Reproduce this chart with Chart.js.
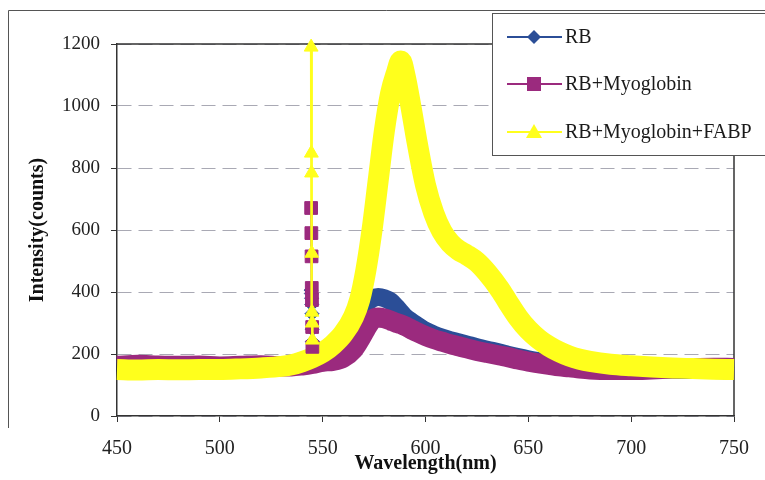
<!DOCTYPE html>
<html>
<head>
<meta charset="utf-8">
<title>Intensity vs Wavelength</title>
<script src="https://cdn.jsdelivr.net/npm/chart.js@4.4.1/dist/chart.umd.min.js"></script>
<style>
    html, body { margin: 0; padding: 0; background: #fff; }
    #wrap { position: relative; width: 765px; height: 480px; }
</style>
</head>
<body>
<div id="wrap"><canvas id="spectrumChart" width="765" height="480"></canvas></div>
<script>
// Wavelength grid (nm) shared by the three spectra
const wavelengths = [450, 460, 470, 480, 490, 500, 510, 520, 530, 535, 540, 545, 550, 555, 560, 565, 568, 571, 574, 577,
    580, 583, 586, 588, 590, 593, 596, 600, 604, 608, 612, 616, 620, 625, 630, 636, 640, 645, 650, 655,
    660, 665, 670, 675, 680, 690, 700, 710, 720, 730, 740, 750];

const rb = [150, 152, 152, 150, 152, 152, 153, 155, 158, 160, 165, 175, 190, 215, 258, 310, 340, 362, 378, 384,
    380, 370, 350, 335, 320, 305, 292, 275, 263, 253, 245, 238, 231, 222, 214, 205, 198, 190, 183, 177,
    172, 167, 162, 158, 155, 152, 150, 150, 149, 148, 148, 147];

const rbMyoglobin = [162, 165, 163, 162, 163, 160, 162, 164, 160, 160, 163, 168, 175, 178, 188, 215, 245, 280, 310, 318,
    315, 308, 300, 296, 290, 280, 270, 258, 248, 240, 232, 225, 218, 210, 203, 195, 190, 182, 175, 170,
    165, 160, 157, 153, 150, 148, 148, 150, 153, 155, 156, 155];

const rbMyoglobinFabp = [150, 148, 150, 149, 150, 150, 152, 155, 160, 165, 175, 188, 205, 230, 265, 320, 375, 470, 600, 760,
    920, 1040, 1110, 1145, 1100, 995, 880, 745, 655, 595, 558, 535, 520, 497, 462, 410, 368, 318, 278, 248,
    225, 207, 193, 183, 176, 167, 162, 158, 155, 153, 151, 150];

// Narrow scatter spike near 545 nm, where the markers stand apart
const spikeWavelengths = [544.4, 544.5, 544.6, 544.7, 544.8, 544.9, 545.0];
const rbSpike = [406, 395, 380, 360, 330, 280, 240];
const rbMyoglobinSpike = [671, 590, 515, 413, 374, 287, 223];
const rbMyoglobinFabpSpike = [1190, 848, 784, 525, 335, 300, 245];

const xTicks = [450, 500, 550, 600, 650, 700, 750];
const yTicks = [0, 200, 400, 600, 800, 1000, 1200];
const seriesLabels = ['RB', 'RB+Myoglobin', 'RB+Myoglobin+FABP'];

const BLUE = '#2b4e97';
const PURPLE = '#9b2a7e';
const YELLOW = '#ffff1c';
const SERIF = '"Liberation Serif", "Times New Roman", serif';

function toPoints(xs, ys) {
    return xs.map((x, i) => ({ x: x, y: ys[i] }));
}

function mainSeries(label, values, color, width) {
    return {
        label: label,
        data: toPoints(wavelengths, values),
        borderColor: color,
        backgroundColor: color,
        borderWidth: width,
        pointRadius: 0,
        cubicInterpolationMode: 'monotone',
        clip: false,
        legendItem: true
    };
}

function spikeSeries(values, color, style, radius, lineWidth) {
    return {
        label: '',
        data: toPoints(spikeWavelengths, values),
        borderColor: color,
        backgroundColor: color,
        borderWidth: lineWidth,
        pointStyle: style,
        pointRadius: radius,
        pointBorderWidth: 1,
        pointBorderColor: color,
        pointBackgroundColor: color,
        clip: false
    };
}

// Plot frame (top / right edges) and the outer chart border
const framePlugin = {
    id: 'frame',
    beforeDatasetsDraw(chart) {
        const { ctx, chartArea: a } = chart;
        ctx.save();
        ctx.strokeStyle = '#555';
        ctx.lineWidth = 1;
        ctx.beginPath();
        ctx.moveTo(8.5, 428);
        ctx.lineTo(8.5, 10.5);
        ctx.lineTo(765, 10.5);
        ctx.stroke();
        ctx.strokeStyle = '#333';
        ctx.lineWidth = 1.5;
        ctx.beginPath();
        ctx.moveTo(a.left, a.top);
        ctx.lineTo(a.right, a.top);
        ctx.lineTo(a.right, a.bottom);
        ctx.stroke();
        ctx.restore();
    }
};

// Excel-like legend box: line + marker sample, then the label
const legendPlugin = {
    id: 'boxLegend',
    afterDraw(chart) {
        const ctx = chart.ctx;
        const items = chart.data.datasets
            .filter(d => d.legendItem)
            .sort((a, b) => seriesLabels.indexOf(a.label) - seriesLabels.indexOf(b.label));
        const markers = { 'RB': 'diamond', 'RB+Myoglobin': 'square', 'RB+Myoglobin+FABP': 'triangle' };
        ctx.save();
        ctx.fillStyle = '#fff';
        ctx.fillRect(492, 13, 280, 142);
        ctx.strokeStyle = '#555';
        ctx.lineWidth = 1;
        ctx.strokeRect(492.5, 13.5, 290, 142);

        const rows = [37, 84, 132];
        items.forEach((d, i) => {
            const y = rows[i];
            const cx = 534;
            ctx.strokeStyle = d.borderColor;
            ctx.lineWidth = 2;
            ctx.beginPath();
            ctx.moveTo(507, y);
            ctx.lineTo(562, y);
            ctx.stroke();
            ctx.fillStyle = d.borderColor;
            ctx.beginPath();
            const kind = markers[d.label];
            if (kind === 'diamond') {
                ctx.moveTo(cx, y - 7); ctx.lineTo(cx + 7, y); ctx.lineTo(cx, y + 7); ctx.lineTo(cx - 7, y);
            } else if (kind === 'square') {
                ctx.rect(cx - 7, y - 7, 14, 14);
            } else {
                ctx.moveTo(cx, y - 8); ctx.lineTo(cx + 8, y + 6); ctx.lineTo(cx - 8, y + 6);
            }
            ctx.closePath();
            ctx.fill();

            ctx.fillStyle = '#1a1a1a';
            ctx.font = '20px ' + SERIF;
            ctx.textBaseline = 'middle';
            ctx.textAlign = 'left';
            ctx.fillText(d.label, 565, y + 1);
        });
        ctx.restore();
    }
};

const ctx = document.getElementById('spectrumChart').getContext('2d');
new Chart(ctx, {
    type: 'line',
    data: {
        datasets: [
            spikeSeries(rbMyoglobinFabpSpike, YELLOW, 'triangle', 8, 2.5),
            spikeSeries(rbMyoglobinSpike, PURPLE, 'rect', 9, 2),
            spikeSeries(rbSpike, BLUE, 'rectRot', 7, 2),
            mainSeries(seriesLabels[2], rbMyoglobinFabp, YELLOW, 21),
            mainSeries(seriesLabels[1], rbMyoglobin, PURPLE, 20),
            mainSeries(seriesLabels[0], rb, BLUE, 18)
        ]
    },
    options: {
        responsive: false,
        animation: false,
        layout: { padding: { top: 44, right: 31, left: 0, bottom: 0 } },
        plugins: {
            legend: { display: false },
            tooltip: { enabled: false }
        },
        scales: {
            x: {
                type: 'linear',
                min: 450,
                max: 750,
                afterBuildTicks: s => { s.ticks = xTicks.map(v => ({ value: v })); },
                afterFit: s => { s.height = 64; },
                ticks: {
                    font: { family: SERIF, size: 20 },
                    color: '#222',
                    padding: 15,
                    maxRotation: 0
                },
                grid: { drawOnChartArea: false, tickLength: 6, tickColor: '#333' },
                border: { color: '#333', width: 1.5 },
                title: {
                    display: true,
                    text: 'Wavelength(nm)',
                    font: { family: SERIF, size: 20, weight: 'bold' },
                    color: '#111',
                    padding: { top: 0, bottom: 4 }
                }
            },
            y: {
                min: 0,
                max: 1200,
                afterBuildTicks: s => { s.ticks = yTicks.map(v => ({ value: v })); },
                afterFit: s => { s.width = 117; },
                ticks: {
                    font: { family: SERIF, size: 19 },
                    color: '#222',
                    padding: 11,
                    callback: v => String(v)
                },
                grid: { color: '#a9a9b4', lineWidth: 1, tickLength: 6, tickColor: '#333' },
                border: { color: '#333', width: 1.5, dash: [14, 7] },
                title: {
                    display: true,
                    text: 'Intensity(counts)',
                    font: { family: SERIF, size: 20, weight: 'bold' },
                    color: '#111',
                    padding: { top: 26, bottom: 0 }
                }
            }
        }
    },
    plugins: [framePlugin, legendPlugin]
});
</script>
</body>
</html>
